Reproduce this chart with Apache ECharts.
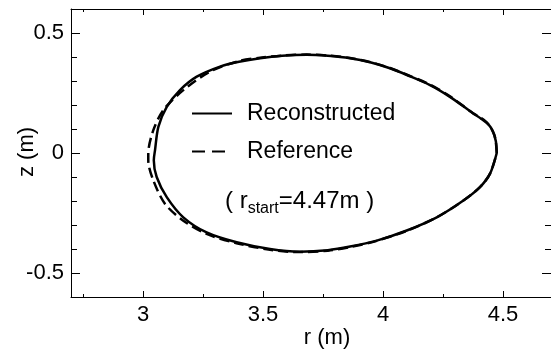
<!DOCTYPE html>
<html><head><meta charset="utf-8">
<script src="https://cdn.jsdelivr.net/npm/echarts@6/dist/echarts.min.js"></script>
<style>html,body{margin:0;padding:0;background:#fff}#c{width:551px;height:351px}</style>
</head><body><div id="c"></div>
<script>
// Reconstructed boundary (r, z) in metres
const rRecon = [4.474, 4.470, 4.458, 4.440, 4.410, 4.376, 4.279, 4.196, 4.100, 4.029, 3.950, 3.863, 3.770, 3.682, 3.580, 3.488, 3.400, 3.321, 3.224, 3.154, 3.099, 3.064, 3.050, 3.045, 3.057, 3.099, 3.168, 3.265, 3.390, 3.529, 3.654, 3.770, 3.863, 3.974, 4.099, 4.224, 4.335, 4.404, 4.446, 4.474];
const zRecon = [0.000, 0.050, 0.090, 0.118, 0.142, 0.165, 0.234, 0.283, 0.325, 0.353, 0.377, 0.395, 0.405, 0.409, 0.405, 0.395, 0.380, 0.360, 0.318, 0.262, 0.192, 0.109, 0.011, -0.030, -0.100, -0.184, -0.268, -0.331, -0.372, -0.400, -0.411, -0.405, -0.390, -0.365, -0.323, -0.268, -0.198, -0.142, -0.086, 0.000];
// Reference boundary
const rRef = [4.474, 4.468, 4.455, 4.430, 4.400, 4.372, 4.279, 4.196, 4.100, 4.029, 3.950, 3.863, 3.770, 3.682, 3.580, 3.488, 3.400, 3.279, 3.168, 3.085, 3.043, 3.022, 3.022, 3.043, 3.092, 3.168, 3.265, 3.390, 3.529, 3.654, 3.770, 3.863, 3.974, 4.099, 4.224, 4.335, 4.404, 4.446, 4.474];
const zRef = [0.000, 0.060, 0.095, 0.130, 0.152, 0.168, 0.236, 0.285, 0.326, 0.354, 0.378, 0.396, 0.406, 0.410, 0.406, 0.397, 0.383, 0.339, 0.262, 0.179, 0.095, -0.003, -0.031, -0.114, -0.212, -0.282, -0.337, -0.376, -0.403, -0.413, -0.407, -0.392, -0.366, -0.324, -0.268, -0.198, -0.142, -0.086, 0.000];

const xMajorTicks = [3, 3.5, 4, 4.5];
const xMinorTicks = [2.75, 3.25, 3.75, 4.25];
const yMajorTicks = [-0.5, 0, 0.5];
const yMinorTicks = [-0.4, -0.3, -0.2, -0.1, 0.1, 0.2, 0.3, 0.4];
const seriesNames = ['Reconstructed', 'Reference'];

const FONT = 'Liberation Sans, Arial, sans-serif';
const chart = echarts.init(document.getElementById('c'), null, {renderer: 'canvas'});

function xAx(pos, ticks, len, showLine, labels) {
  return {
    type: 'value', position: pos, min: 2.7, max: 4.7,
    axisLine: {show: showLine, onZero: false, lineStyle: {color: '#000', width: 1}},
    axisTick: {show: true, inside: true, length: len, customValues: ticks, lineStyle: {color: '#000', width: 1}},
    axisLabel: labels ? {show: true, customValues: ticks, margin: 7, color: '#000', fontSize: 22, fontFamily: FONT} : {show: false},
    splitLine: {show: false}
  };
}
function yAx(pos, ticks, len, showLine, labels) {
  return {
    type: 'value', position: pos, min: -0.6, max: 0.6,
    axisLine: {show: showLine, onZero: false, lineStyle: {color: '#000', width: 1}},
    axisTick: {show: true, inside: true, length: len, customValues: ticks, lineStyle: {color: '#000', width: 1}},
    axisLabel: labels ? {show: true, customValues: ticks, margin: 7, color: '#000', fontSize: 22, fontFamily: FONT} : {show: false},
    splitLine: {show: false}
  };
}

const option = {
  animation: false,
  backgroundColor: '#fff',
  color: ['#000', '#000'],
  grid: {left: 71, right: 0, top: 9, bottom: 54, containLabel: false},
  xAxis: [
    xAx('bottom', xMajorTicks, 6, true, true),
    xAx('bottom', xMinorTicks, 3, false, false),
    xAx('top', xMajorTicks, 6, true, false),
    xAx('top', xMinorTicks, 3, false, false)
  ],
  yAxis: [
    yAx('left', yMajorTicks, 9, true, true),
    yAx('left', yMinorTicks, 6, false, false),
    yAx('right', yMajorTicks, 9, false, false),
    yAx('right', yMinorTicks, 6, false, false)
  ],
  legend: {
    orient: 'vertical', left: 191, top: 102, padding: 0,
    itemWidth: 40, itemHeight: 20, itemGap: 15,
    itemStyle: {opacity: 0},
    data: [
      {name: seriesNames[0]},
      {name: seriesNames[1], lineStyle: {type: [13, 7]}}
    ],
    textStyle: {fontSize: 23, fontFamily: FONT, color: '#000', padding: [0, 0, 0, 10]}
  },
  series: [
    {
      name: seriesNames[1], type: 'line', symbol: 'none', smooth: 0.3,
      data: rRef.map((r, i) => [r, zRef[i]]),
      itemStyle: {color: '#000'},
      lineStyle: {color: '#000', width: 2.5, type: [10, 5]}, z: 2
    },
    {
      name: seriesNames[0], type: 'line', symbol: 'none', smooth: 0.3,
      data: rRecon.map((r, i) => [r, zRecon[i]]),
      itemStyle: {color: '#000'},
      lineStyle: {color: '#000', width: 2.5, type: 'solid'}, z: 3
    }
  ],
  graphic: [
    {type: 'text', x: 327, y: 338, style: {text: 'r (m)', fontSize: 22, fontFamily: FONT, fill: '#000', align: 'center', verticalAlign: 'middle'}},
    {type: 'text', x: 27, y: 152, rotation: Math.PI / 2, style: {text: 'z (m)', fontSize: 22, fontFamily: FONT, fill: '#000', align: 'center', verticalAlign: 'middle'}},
    {type: 'text', x: 225, y: 201, style: {
      text: '{a|( r}{b|start}{a|=4.47m )}', align: 'left', verticalAlign: 'middle',
      rich: {
        a: {fontSize: 24, fontFamily: FONT, fill: '#000', lineHeight: 32, verticalAlign: 'middle'},
        b: {fontSize: 16, fontFamily: FONT, fill: '#000', lineHeight: 16, verticalAlign: 'bottom'}
      }
    }}
  ]
};
chart.setOption(option);
</script></body></html>
